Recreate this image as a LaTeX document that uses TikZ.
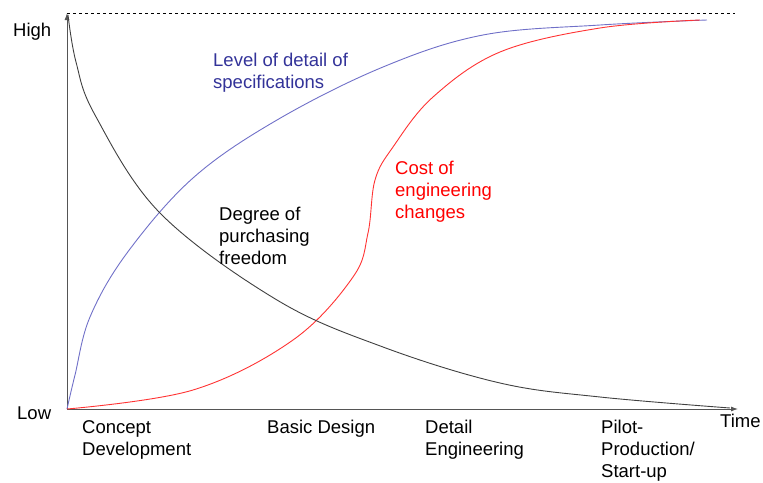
\documentclass[tikz,border=0pt]{standalone}
\usepackage{fontspec}
\setmainfont{Liberation Sans}
\usetikzlibrary{arrows.meta}
\definecolor{axisgray}{HTML}{555555}
\definecolor{curvegray}{HTML}{404040}
\definecolor{specline}{HTML}{7070C8}
\definecolor{spectext}{HTML}{333399}
\definecolor{costline}{HTML}{FF3333}

\begin{document}
\begin{tikzpicture}[x=1pt,y=-1pt,
	lbl/.style={anchor=north west,inner sep=0pt,align=left,font=\fontsize{18.5}{22}\selectfont},
	axis/.style={axisgray,line width=0.9pt,-{Latex[length=7pt,width=5pt]}},
	curve/.style={line width=0.9pt,smooth,tension=0.6}]
	\useasboundingbox (0,0) rectangle (763,482);
	\coordinate (O) at (67,409);
	\coordinate (ytop) at (67,13);
	\coordinate (xend) at (738,409);
	\coordinate (dashend) at (735,13);
	% axes
	\draw [axis] (O) -- (ytop);
	\draw [axis] (O) -- (xend);
	\draw [black,line width=0.6pt,dash pattern=on 3pt off 3pt] (ytop) -- (dashend);
	% axis labels
	\node [lbl] (high) at (13,23) {High};
	\node [lbl] (low) at (17,407) {Low};
	\node [lbl] (time) at (720,414) {Time};
	\node [lbl] (concept) at (82,420) {Concept\\Development};
	\node [lbl] (basic) at (267,420) {Basic Design};
	\node [lbl] (detail) at (425,420) {Detail\\Engineering};
	\node [lbl] (pilot) at (601,420) {Pilot-\\Production/\\Start-up};
	% level of detail of specifications
	\draw [curve,specline] plot coordinates {(67,409) (75,375) (90,317) (127,253) (193,178) (277,120) (383,67) (483,35) (600,25) (707,20)};
	\node [lbl,text=spectext] (spec) at (213,53) {Level of detail of\\specifications};
	% cost of engineering changes
	\draw [curve,costline] plot coordinates {(67,409) (193,390) (293,340) (353,277) (368,233) (375,180) (393,147) (433,97) (500,52) (600,28) (700,20)};
	\node [lbl,text=red] (cost) at (395,161) {Cost of\\engineering\\changes};
	% degree of purchasing freedom
	\draw [curve,curvegray] plot coordinates {(68,15) (76,62) (95,115) (160,213) (277,300) (383,347) (500,383) (600,397) (730,408)};
	\node [lbl,text=black] (freedom) at (219,207) {Degree of\\purchasing\\freedom};
\end{tikzpicture}
\end{document}
